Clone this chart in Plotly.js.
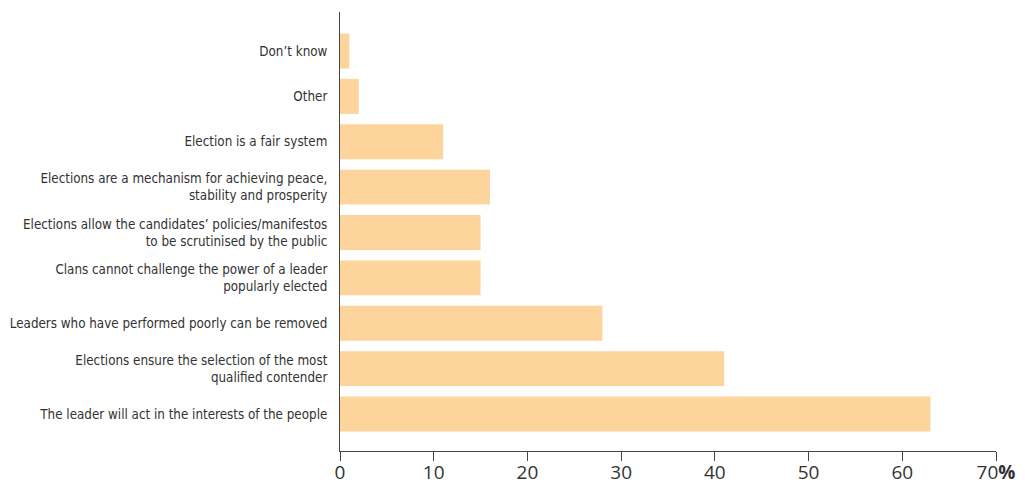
<!DOCTYPE html>
<html>
<head>
<meta charset="utf-8">
<script src="https://cdn.plot.ly/plotly-3.0.1.min.js"></script>
<style>html,body{margin:0;padding:0;background:#fff;}#chart{width:1025px;height:484px;}
.ytick text{font-stretch:condensed;}</style>
</head>
<body>
<div id="chart"></div>
<script>
// Categories listed bottom to top
const categories = [
  "The leader will act in the interests of the people",
  "Elections ensure the selection of the most<br>qualified contender",
  "Leaders who have performed poorly can be removed",
  "Clans cannot challenge the power of a leader<br>popularly elected",
  "Elections allow the candidates’ policies/manifestos<br>to be scrutinised by the public",
  "Elections are a mechanism for achieving peace,<br>stability and prosperity",
  "Election is a fair system",
  "Other",
  "Don’t know"
];
const percentages = [63, 41, 28, 15, 15, 16, 11, 2, 1];
const tickValues = [0, 10, 20, 30, 40, 50, 60, 70];
const tickLabels = ["0", "10", "20", "30", "40", "50", "60", "70<b>%</b>"];

const trace = {
  type: "bar",
  orientation: "h",
  y: categories,
  x: percentages,
  marker: {color: "#FDD49B"},
  hoverinfo: "x+y"
};

const layout = {
  width: 1025,
  height: 484,
  margin: {l: 340, r: 29, t: 12, b: 33},
  paper_bgcolor: "#fff",
  plot_bgcolor: "#fff",
  showlegend: false,
  bargap: 0.23,
  font: {family: "'DejaVu Sans Condensed', 'Liberation Sans Narrow', Roboto, sans-serif", color: "#333"},
  xaxis: {
    range: [0, 70],
    tickvals: tickValues,
    ticktext: tickLabels,
    ticks: "outside",
    ticklen: 9,
    tickwidth: 1,
    tickcolor: "#444",
    showline: true,
    linecolor: "#444",
    linewidth: 1,
    showgrid: false,
    zeroline: false,
    ticklabelstandoff: -5,
    tickfont: {size: 19, color: "#333", family: "'Open Sans', sans-serif"},
    fixedrange: true
  },
  yaxis: {
    type: "category",
    range: [-0.815, 8.86],
    showline: true,
    linecolor: "#444",
    linewidth: 1,
    showgrid: false,
    zeroline: false,
    ticks: "",
    ticklabelstandoff: 9,
    tickfont: {size: 13.3, color: "#333"},
    fixedrange: true
  }
};

Plotly.newPlot("chart", [trace], layout, {displayModeBar: false, staticPlot: true});
</script>
</body>
</html>
